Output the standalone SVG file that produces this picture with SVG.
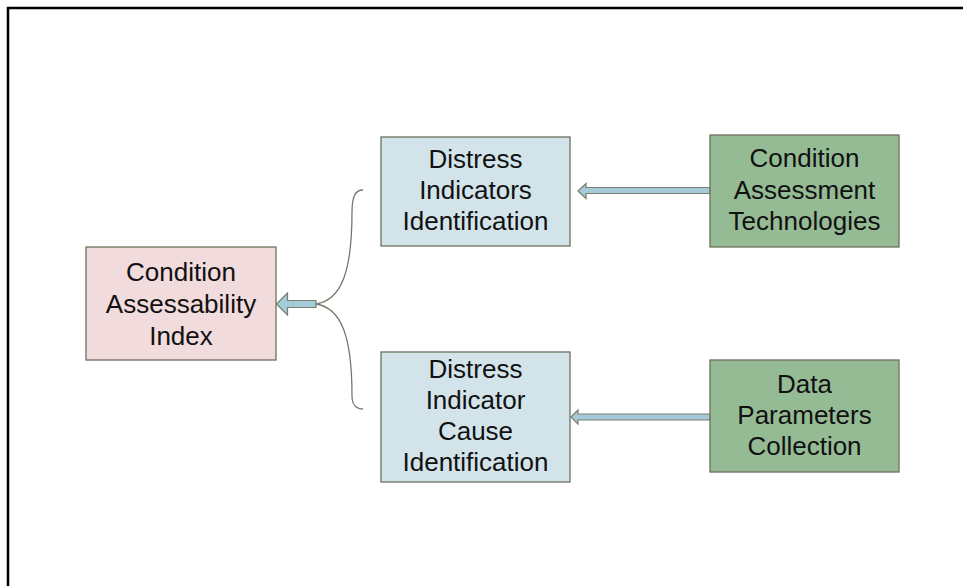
<svg xmlns="http://www.w3.org/2000/svg" width="963" height="586" viewBox="0 0 963 586">
  <style>
    .box { stroke: #6f705f; stroke-width: 1.3; }
    .pink { fill: #f2dbdc; }
    .blue { fill: #d2e4ea; }
    .green { fill: #95bb95; }
    .label { font-family: "Liberation Sans", Arial, sans-serif; font-size: 26px; fill: #111; text-anchor: middle; }
    .blockarrow { fill: #a5cbd8; stroke: #7a7d70; stroke-width: 1.2; stroke-linejoin: miter; }
    .brace { fill: none; stroke: #77786a; stroke-width: 1.3; }
  </style>

  <rect width="963" height="586" fill="#ffffff"/>
  <!-- outer frame -->
  <path d="M8,586 V8 H963" fill="none" stroke="#000" stroke-width="2.5"/>

  <g id="connectors">
    <!-- brace joining the two middle boxes -->
    <path class="brace" d="M363,190 C356,190 352,195 352,212 C352,270 342,300 316,304 C342,308 352,338 352,396 C352,404 356,409 363,409"/>
    <!-- block arrow into Condition Assessability Index -->
    <path class="blockarrow" d="M316,300.5 H287.5 V293 L276.5,304 L287.5,315 V307.5 H316 Z"/>
    <!-- arrow: Condition Assessment Technologies to Distress Indicators Identification -->
    <path class="blockarrow" d="M710,187.5 H586 V183.5 L578,191 L586,198.5 V193.5 H710 Z"/>
    <!-- arrow: Data Parameters Collection to Distress Indicator Cause Identification -->
    <path class="blockarrow" d="M710,414 H578 V410 L571,417 L578,424 V420 H710 Z"/>
  </g>

  <g id="condition-assessability-index">
    <rect class="box pink" x="86" y="247" width="190" height="113"/>
    <text class="label" x="181" y="281">Condition</text>
    <text class="label" x="181" y="313">Assessability</text>
    <text class="label" x="181" y="345">Index</text>
  </g>

  <g id="distress-indicators-identification">
    <rect class="box blue" x="381" y="137" width="189" height="109"/>
    <text class="label" x="475.5" y="168">Distress</text>
    <text class="label" x="475.5" y="199">Indicators</text>
    <text class="label" x="475.5" y="230">Identification</text>
  </g>

  <g id="distress-indicator-cause-identification">
    <rect class="box blue" x="381" y="352" width="189" height="130"/>
    <text class="label" x="475.5" y="378">Distress</text>
    <text class="label" x="475.5" y="409">Indicator</text>
    <text class="label" x="475.5" y="440">Cause</text>
    <text class="label" x="475.5" y="471">Identification</text>
  </g>

  <g id="condition-assessment-technologies">
    <rect class="box green" x="710" y="135" width="189" height="112"/>
    <text class="label" x="804.5" y="167">Condition</text>
    <text class="label" x="804.5" y="199">Assessment</text>
    <text class="label" x="804.5" y="230">Technologies</text>
  </g>

  <g id="data-parameters-collection">
    <rect class="box green" x="710" y="360" width="189" height="112"/>
    <text class="label" x="804.5" y="393">Data</text>
    <text class="label" x="804.5" y="424">Parameters</text>
    <text class="label" x="804.5" y="455">Collection</text>
  </g>
</svg>
